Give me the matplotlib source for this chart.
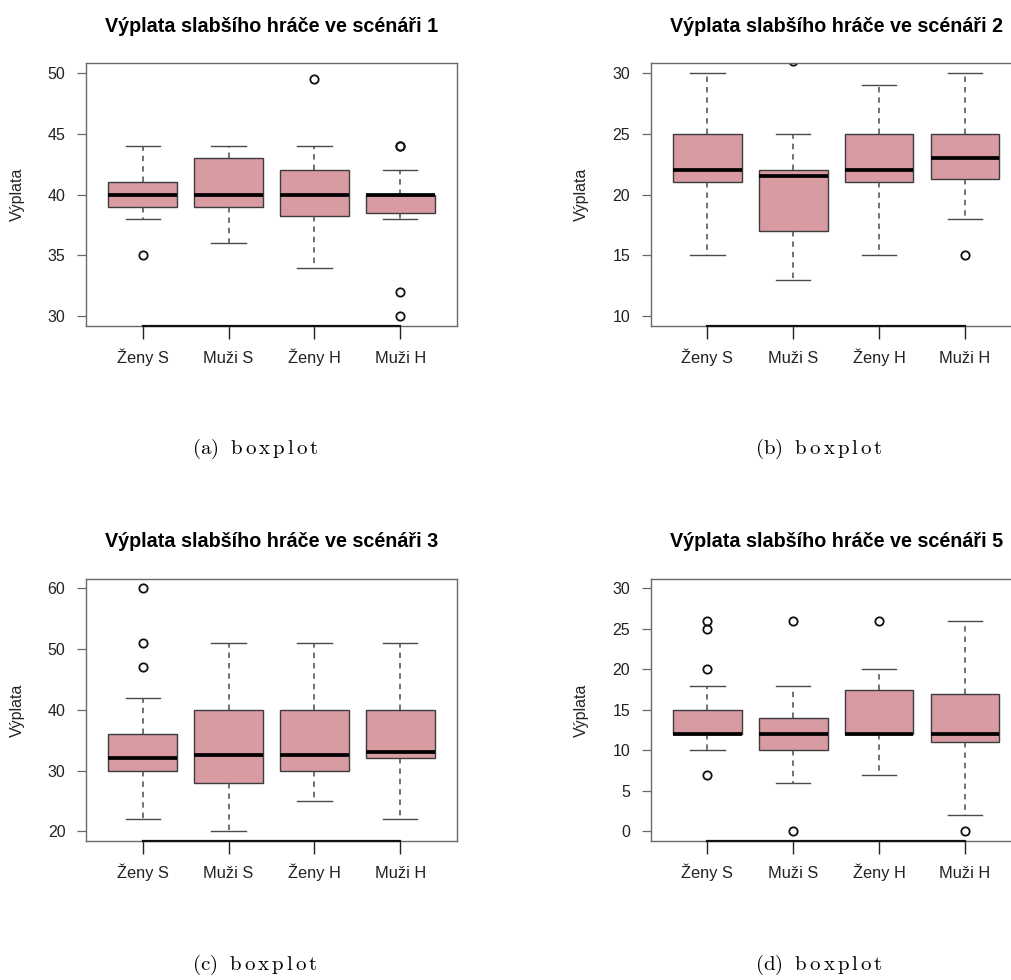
import matplotlib
matplotlib.use("Agg")
import matplotlib.pyplot as plt

plt.rcParams["font.family"] = ["Liberation Sans", "DejaVu Sans"]
plt.rcParams["mathtext.fontset"] = "cm"

categories = ["Ženy S", "Muži S", "Ženy H", "Muži H"]
titles = [
    "Výplata slabšího hráče ve scénáři 1",
    "Výplata slabšího hráče ve scénáři 2",
    "Výplata slabšího hráče ve scénáři 3",
    "Výplata slabšího hráče ve scénáři 5",
]
captions = ["a", "b", "c", "d"]

# box statistics: (whislo, q1, med, q3, whishi, fliers)
scen1 = [
    (38, 39, 40, 41, 44, [35]),
    (36, 39, 40, 43, 44, []),
    (34, 38.25, 40, 42, 44, [49.5]),
    (38, 38.5, 40, 40, 42, [44, 44, 32, 30]),
]
scen2 = [
    (15, 21, 22, 25, 30, []),
    (13, 17, 21.5, 22, 25, [31]),
    (15, 21, 22, 25, 29, []),
    (18, 21.25, 23, 25, 30, [15]),
]
scen3 = [
    (22, 30, 32, 36, 42, [60, 51, 47]),
    (20, 28, 32.5, 40, 51, []),
    (25, 30, 32.6, 40, 51, []),
    (22, 32, 33, 40, 51, []),
]
scen5 = [
    (10, 12, 12, 15, 18, [26, 25, 20, 7]),
    (6, 10, 12, 14, 18, [26, 0]),
    (7, 12, 12, 17.5, 20, [26]),
    (2, 11, 12, 17, 26, [0]),
]
scenarios = [scen1, scen2, scen3, scen5]
ylims = [(30, 50), (10, 30), (20, 60), (0, 30)]
yticks = [[30, 35, 40, 45, 50], [10, 15, 20, 25, 30], [20, 30, 40, 50, 60],
          [0, 5, 10, 15, 20, 25, 30]]

W, H = 1011, 980
fig = plt.figure(figsize=(W / 100, H / 100), dpi=100)

# axes boxes in pixels: left, top, right, bottom
rects = [(86, 63.3, 457, 326), (650.7, 63.3, 1021.7, 326),
         (86, 578.7, 457, 841), (650.7, 578.7, 1021.7, 841)]
cap_pos = [(255, 454), (819, 454), (255, 969.5), (819, 969.5)]

fill = "#D99BA2"
edge = "#3c3c3c"
frame = "#6a6a6a"

for i, (l, t, r, b) in enumerate(rects):
    ax = fig.add_axes([l / W, 1 - b / H, (r - l) / W, (b - t) / H])
    stats = []
    for lo, q1, med, q3, hi, fl in scenarios[i]:
        stats.append(dict(whislo=lo, q1=q1, med=med, q3=q3, whishi=hi, fliers=fl))
    pos = list(range(1, len(categories) + 1))
    ax.bxp(stats, positions=pos, widths=0.8, capwidths=0.4, patch_artist=True,
           boxprops=dict(facecolor=fill, edgecolor=edge, linewidth=1.0),
           medianprops=dict(color="black", linewidth=2.7, solid_capstyle="butt"),
           whiskerprops=dict(color="#4a4a4a", linewidth=1.1, linestyle=(0, (3.6, 3.2))),
           capprops=dict(color="#4a4a4a", linewidth=1.0),
           flierprops=dict(marker="o", markersize=6, markerfacecolor="none",
                           markeredgecolor="#111111", markeredgewidth=1.3))
    lo, hi = ylims[i]
    pad = (hi - lo) * 0.04
    ax.set_ylim(lo - pad, hi + pad)
    ax.set_xlim(0.5 - 0.16, len(categories) + 0.5 + 0.16)
    ax.set_yticks(yticks[i])
    ax.set_xticks(pos)
    ax.set_xticklabels(categories, va="baseline")
    for s in ax.spines.values():
        s.set_color(frame)
        s.set_linewidth(1.0)
    ax.tick_params(axis="y", length=6.8, width=0.9, color=frame, pad=8,
                   labelsize=11.5, labelcolor="#222222")
    ax.tick_params(axis="x", length=9.5, width=1.0, color="#222222", pad=17,
                   labelsize=11.8, labelcolor="#222222")
    # R draws the x axis line from the first to the last tick
    ax.plot([pos[0], pos[-1]], [lo - pad, lo - pad], color="#111111", lw=1.6,
            clip_on=False, zorder=5)
    ax.text(-0.186, 0.5, "Výplata", transform=ax.transAxes, rotation=90,
            ha="center", va="center", fontsize=11.5, color="#222222")
    ax.set_title(titles[i], fontsize=14.2, fontweight="bold", pad=22.7)
    cx, cy = cap_pos[i]
    fig.text(cx / W, 1 - cy / H,
             r"$\mathrm{(" + captions[i] + r")\ \ b\,o\,x\,p\,l\,o\,t}$",
             ha="center", va="baseline", fontsize=15)

fig.savefig("out.png", dpi=100)
